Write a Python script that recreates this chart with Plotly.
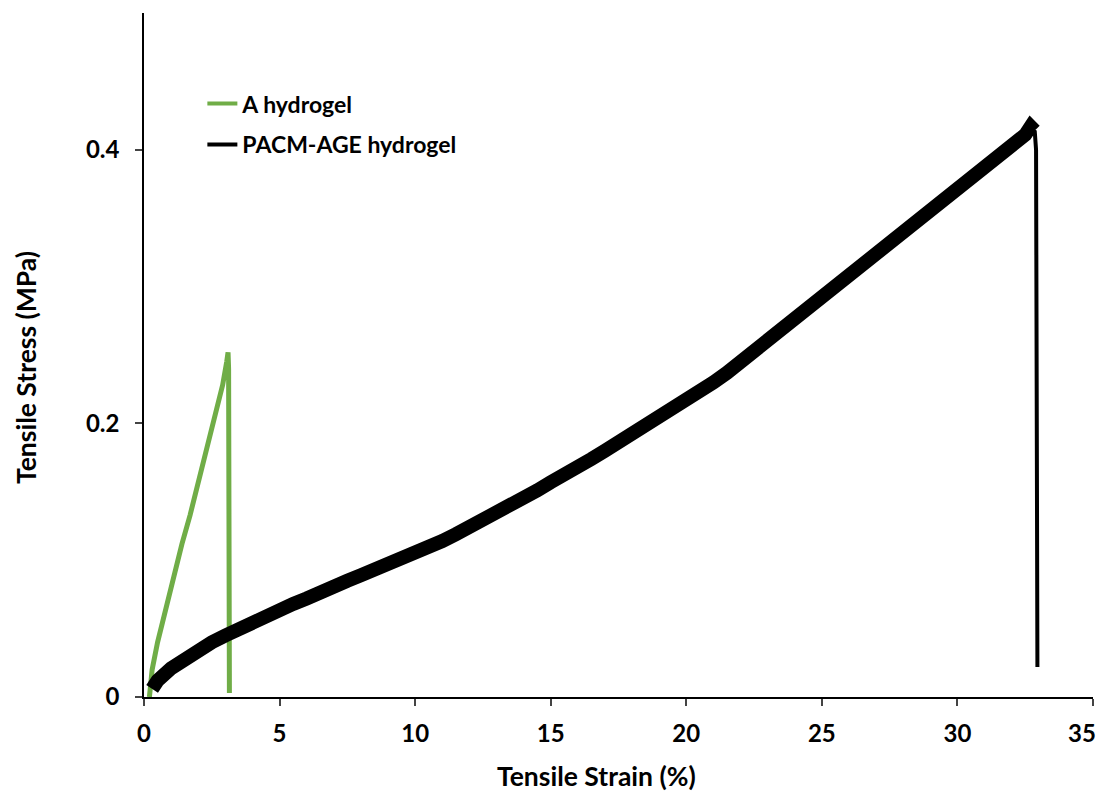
import plotly.graph_objects as go

# Green: A hydrogel
a_strain = [0.2, 0.3, 0.5, 0.8, 1.1, 1.4, 1.7, 2.0, 2.3, 2.6, 2.9, 3.05, 3.1, 3.12, 3.15]
a_stress = [0.0, 0.02, 0.04, 0.065, 0.09, 0.112, 0.133, 0.157, 0.18, 0.203, 0.228, 0.245, 0.252, 0.24, 0.003]

# Black: PACM-AGE hydrogel (loading part)
p_strain = [0.3, 0.5, 1, 1.5, 2, 2.5, 3, 3.5, 4, 4.5, 5, 5.5, 6, 6.5, 7, 7.5, 8, 8.5, 9, 9.5,
            10, 10.5, 11, 11.5, 12, 12.5, 13, 13.5, 14, 14.5, 15, 15.5, 16, 16.5, 17, 17.5, 18, 18.5, 19, 19.5,
            20, 20.5, 21, 21.5, 22, 22.5, 23, 23.5, 24, 24.5, 25, 25.5, 26, 26.5, 27, 27.5, 28, 28.5, 29, 29.5,
            30, 30.5, 31, 31.5, 32, 32.5, 32.7, 32.85]
p_stress = [0.006, 0.012, 0.021, 0.028, 0.035, 0.040, 0.045, 0.050, 0.054, 0.059, 0.063, 0.068, 0.072, 0.077, 0.081, 0.085, 0.089, 0.093, 0.097, 0.100,
            0.104, 0.109, 0.114, 0.119, 0.124, 0.129, 0.135, 0.140, 0.146, 0.151, 0.157, 0.162, 0.168, 0.174, 0.180, 0.186, 0.192, 0.198, 0.204, 0.210,
            0.216, 0.223, 0.230, 0.237, 0.245, 0.252, 0.260, 0.267, 0.275, 0.283, 0.290, 0.298, 0.306, 0.314, 0.322, 0.330, 0.338, 0.346, 0.354, 0.362,
            0.370, 0.378, 0.386, 0.394, 0.403, 0.411, 0.417, 0.414]
# Black: PACM-AGE hydrogel (fracture drop)
p_drop_strain = [32.85, 32.9, 32.95]
p_drop_stress = [0.414, 0.40, 0.022]

x_ticks = [0, 5, 10, 15, 20, 25, 30, 35]
y_ticks = [0, 0.2, 0.4]
y_tick_labels = ["0", "0.2", "0.4"]
x_title = "Tensile Strain (%)"
y_title = "Tensile Stress (MPa)"

GREEN = "#70ad47"
TICK_FONT = dict(family="Lato", size=24, color="black", weight="bold")
TITLE_FONT = dict(family="Lato", size=26.5, color="black", weight="bold")
LEG_FONT = dict(family="Lato", size=23, color="black", weight="bold")

fig = go.Figure()
fig.add_trace(go.Scatter(x=a_strain, y=a_stress, mode="lines", line=dict(color=GREEN, width=5),
                         name="A hydrogel", showlegend=False))
fig.add_trace(go.Scatter(x=p_strain, y=p_stress, mode="lines", line=dict(color="black", width=14),
                         name="PACM-AGE hydrogel", showlegend=False))
fig.add_trace(go.Scatter(x=p_drop_strain, y=p_drop_stress, mode="lines", line=dict(color="black", width=4),
                         name="PACM-AGE hydrogel", showlegend=False))
# legend entries
fig.add_trace(go.Scatter(x=[None], y=[None], mode="lines", line=dict(color=GREEN, width=4),
                         name="A hydrogel", legendgroup="a"))
fig.add_trace(go.Scatter(x=[None], y=[None], mode="lines", line=dict(color="black", width=4),
                         name="PACM-AGE hydrogel", legendgroup="b"))

fig.add_annotation(text=x_title, xref="paper", yref="paper", x=0.4773, y=-0.1155,
                   xanchor="center", yanchor="middle", showarrow=False, font=TITLE_FONT)
fig.add_annotation(text=y_title, xref="paper", yref="paper", x=-0.1243, y=0.481, textangle=-90,
                   xanchor="center", yanchor="middle", showarrow=False, font=TITLE_FONT)
# last x tick label (the axis hides it because it would spill past the page edge)
fig.add_annotation(text=str(x_ticks[-1]), xref="paper", yref="paper", x=1.0, y=0.0,
                   xanchor="right", yanchor="top", xshift=5, yshift=-19,
                   showarrow=False, font=TICK_FONT)

fig.update_layout(
    width=1091, height=783,
    margin=dict(l=136, r=6, t=5, b=94),
    paper_bgcolor="white", plot_bgcolor="white",
    font=TICK_FONT,
    legend=dict(x=0.0615, y=0.899, xanchor="left", yanchor="top", bgcolor="rgba(0,0,0,0)",
                font=LEG_FONT, tracegroupgap=8, itemwidth=30),
    xaxis=dict(range=[0, 35], tickvals=x_ticks, ticks="outside", ticklen=7, tickwidth=1.5,
               showline=True, linecolor="black", linewidth=1.5, showgrid=False, zeroline=False,
               tickfont=TICK_FONT, ticklabelstandoff=7),
    yaxis=dict(range=[0, 0.5], tickvals=y_ticks, ticktext=y_tick_labels, ticks="outside", ticklen=7,
               tickwidth=1.5, showline=True, linecolor="black", linewidth=1.5, showgrid=False,
               zeroline=False, tickfont=TICK_FONT, ticklabelstandoff=11),
)

fig.write_html("out.html")
